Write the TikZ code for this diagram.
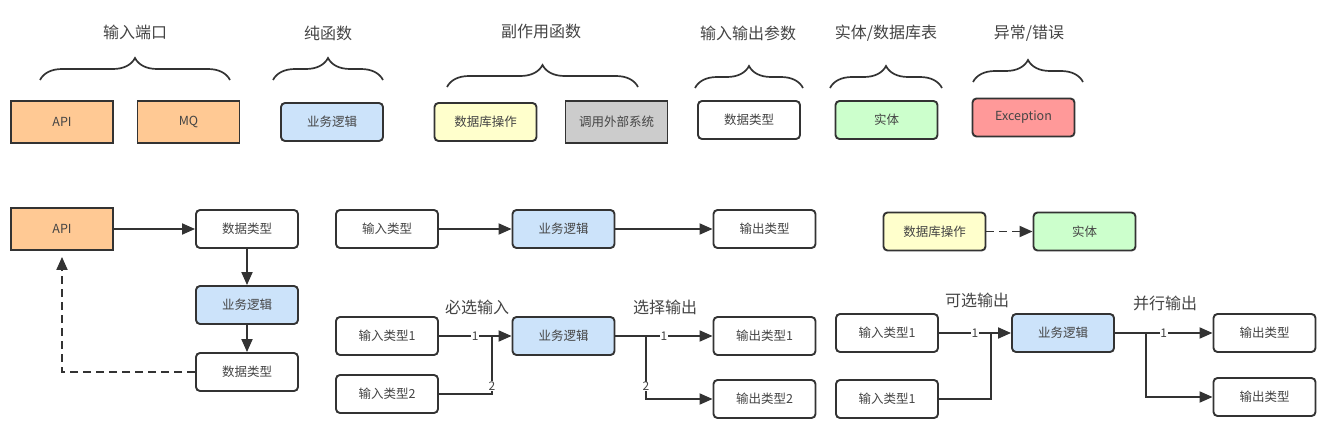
\documentclass[tikz,border=0pt]{standalone}
\usepackage{fontspec}
\setmainfont{Noto Sans CJK SC}
\usetikzlibrary{positioning, arrows.meta, decorations.pathreplacing}

\definecolor{portfill}{HTML}{FFC994}
\definecolor{purefill}{HTML}{CCE3FA}
\definecolor{dbfill}{HTML}{FFFFCC}
\definecolor{extfill}{HTML}{CCCCCC}
\definecolor{entityfill}{HTML}{CCFFCC}
\definecolor{errfill}{HTML}{FF9999}
\definecolor{linecol}{HTML}{333333}
\definecolor{textcol}{HTML}{444444}

\begin{document}
\begin{tikzpicture}[
    x=1pt, y=-1pt,
    >={Triangle[length=13pt,width=11pt]},
    every node/.style={text=textcol},
    box/.style={draw=linecol, line width=1.9pt, minimum width=102pt, minimum height=38pt,
        inner sep=0pt, font=\fontsize{12.5}{14}\selectfont},
    rbox/.style={box, rounded corners=4pt},
    sbox/.style={box, minimum height=42pt},
    title/.style={font=\fontsize{16}{19}\selectfont},
    num/.style={font=\fontsize{12}{14}\selectfont, fill=white, inner sep=0.5pt},
    flow/.style={draw=linecol, line width=1.9pt},
    curly/.style={draw=linecol, line width=1.7pt, decorate, decoration={brace, amplitude=22pt}}
]
    \useasboundingbox (0,0) rectangle (1331,428);

    % legend: headings, braces and sample boxes
    \node[title] (tPort) at (135,32) {输入端口};
    \node[title] (tPure) at (328,33) {纯函数};
    \node[title] (tSide) at (541,31) {副作用函数};
    \node[title] (tParam) at (748,33) {输入输出参数};
    \node[title] (tEntity) at (886,33) {实体/数据库表};
    \node[title] (tError) at (1029,33) {异常/错误};

    \draw[curly] (40,80) -- (230,80);
    \draw[curly] (273,80) -- (383,80);
    \draw[curly] (447,87) -- (638,87);
    \draw[curly] (695,88) -- (803,88);
    \draw[curly] (830,88) -- (942,88);
    \draw[curly] (973,82) -- (1083,82);

    \node[sbox, fill=portfill] (kApi) at (62,122) {API};
    \node[sbox, fill=portfill] (kMq) at (188.5,122) {MQ};
    \node[rbox, fill=purefill] (kLogic) at (332,122) {业务逻辑};
    \node[rbox, fill=dbfill] (kDb) at (485.5,122) {数据库操作};
    \node[sbox, fill=extfill] (kExt) at (616.5,122) {调用外部系统};
    \node[rbox, fill=white] (kData) at (749,120) {数据类型};
    \node[rbox, fill=entityfill] (kEntity) at (886.5,120) {实体};
    \node[rbox, fill=errfill] (kErr) at (1023.5,117.5) {Exception};

    % api round trip
    \node[sbox, fill=portfill] (api) at (62,229) {API};
    \node[rbox] (dt1) at (247,229) {数据类型};
    \node[rbox, fill=purefill] (lg1) at (247,305) {业务逻辑};
    \node[rbox] (dt2) at (247,372) {数据类型};

    \draw[flow, ->] (api) -- (dt1);
    \draw[flow, ->] (dt1) -- (lg1);
    \draw[flow, ->] (lg1) -- (dt2);
    \draw[flow, ->, dash pattern=on 8pt off 5pt, shorten >=6pt] (dt2) -| (api);

    % simple function
    \node[rbox] (inA) at (387,229) {输入类型};
    \node[rbox, fill=purefill] (lgA) at (563.5,229) {业务逻辑};
    \node[rbox] (outA) at (764.5,229) {输出类型};

    \draw[flow, ->] (inA) -- (lgA);
    \draw[flow, ->] (lgA) -- (outA);

    % required inputs, chosen output
    \node[title] (lbMust) at (477,307) {必选输入};
    \node[title] (lbChoose) at (665,307) {选择输出};
    \node[rbox] (inB1) at (387,336) {输入类型1};
    \node[rbox] (inB2) at (387,394) {输入类型2};
    \node[rbox, fill=purefill] (lgB) at (563.5,336) {业务逻辑};
    \node[rbox] (outB1) at (764.5,336) {输出类型1};
    \node[rbox] (outB2) at (764.5,399) {输出类型2};
    \coordinate (jInB) at (492,336);
    \coordinate (jOutB) at (646,336);

    \draw[flow, ->] (inB1) -- node[num] {1} (lgB);
    \draw[flow] (inB2) -| node[num, pos=0.57] {2} (jInB);
    \draw[flow, ->] (lgB) -- node[num] {1} (outB1);
    \draw[flow, ->] (jOutB) |- node[num, pos=0.4] {2} (outB2);

    % db to entity
    \node[rbox, fill=dbfill] (db) at (934.5,231.5) {数据库操作};
    \node[rbox, fill=entityfill] (ent) at (1084.5,231.5) {实体};

    \draw[flow, ->, dash pattern=on 8pt off 5pt] (db) -- (ent);

    % optional inputs, parallel output
    \node[title] (lbOptional) at (977,300) {可选输出};
    \node[title] (lbParallel) at (1165,303) {并行输出};
    \node[rbox] (inC1) at (887,333) {输入类型1};
    \node[rbox] (inC2) at (887,399) {输入类型1};
    \node[rbox, fill=purefill] (lgC) at (1063,333) {业务逻辑};
    \node[rbox] (outC1) at (1264.5,333) {输出类型};
    \node[rbox] (outC2) at (1264.5,397) {输出类型};
    \coordinate (jInC) at (991,333);
    \coordinate (jOutC) at (1146,333);

    \draw[flow, ->] (inC1) -- node[num] {1} (lgC);
    \draw[flow] (inC2) -| (jInC);
    \draw[flow, ->] (lgC) -- node[num] {1} (outC1);
    \draw[flow, ->] (jOutC) |- (outC2);
\end{tikzpicture}
\end{document}
